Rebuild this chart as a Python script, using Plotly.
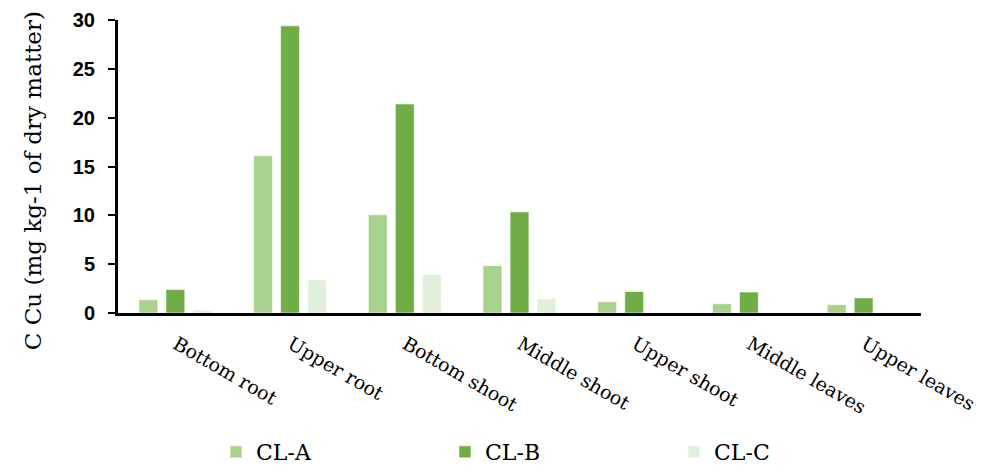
import plotly.graph_objects as go

categories = ["Bottom root", "Upper root", "Bottom shoot", "Middle shoot",
              "Upper shoot", "Middle leaves", "Upper leaves"]
cl_a = [1.35, 16.1, 10.05, 4.85, 1.15, 0.95, 0.85]
cl_b = [2.4, 29.4, 21.4, 10.35, 2.2, 2.15, 1.55]
cl_c = [0.3, 3.4, 3.95, 1.45, 0.0, 0.0, 0.0]
y_ticks = [0, 5, 10, 15, 20, 25, 30]

series = [("CL-A", cl_a, "#A9D18E"), ("CL-B", cl_b, "#70AD47"), ("CL-C", cl_c, "#E2EFDA")]

fig = go.Figure()
for name, vals, col in series:
    fig.add_trace(go.Bar(x=categories, y=vals, name=name,
                         marker=dict(color=col, line=dict(color="rgba(255,255,255,0.6)", width=1))))

serif = "DejaVu Serif"
fig.update_layout(
    width=989, height=473,
    margin=dict(l=118, r=68, t=20, b=160, autoexpand=False),
    plot_bgcolor="white", paper_bgcolor="white",
    barmode="group", bargap=0.294, bargroupgap=0.3,
    showlegend=True,
    legend=dict(orientation="h", x=216 / 989, xanchor="left", xref="container",
                y=-4 / 473, yanchor="bottom", yref="container",
                font=dict(family=serif, size=22, color="black"),
                itemwidth=30, entrywidth=184),
    xaxis=dict(showline=True, linecolor="black", linewidth=3, ticks="",
               tickangle=30, tickfont=dict(family=serif, size=19, color="black"),
               ticklabelshift=1, ticklabelstandoff=10,
               showgrid=False, zeroline=False, automargin=False),
    yaxis=dict(range=[0, 30], tickvals=y_ticks, showline=True, linecolor="black", linewidth=3,
               ticks="outside", ticklen=7, tickwidth=2, tickcolor="black",
               ticklabelstandoff=9,
               tickfont=dict(family="Liberation Sans", size=20, color="black", weight="bold"),
               showgrid=False, zeroline=False, automargin=False),
    annotations=[dict(text="C Cu (mg kg-1 of dry matter)", textangle=-90,
                      xref="paper", x=0, xanchor="center", xshift=-85,
                      yref="paper", y=0.45, yanchor="middle", showarrow=False,
                      font=dict(family=serif, size=23, color="black"))],
)

fig.write_html("out.html", post_script="document.body.style.margin='0';",
               config={"displayModeBar": False})
